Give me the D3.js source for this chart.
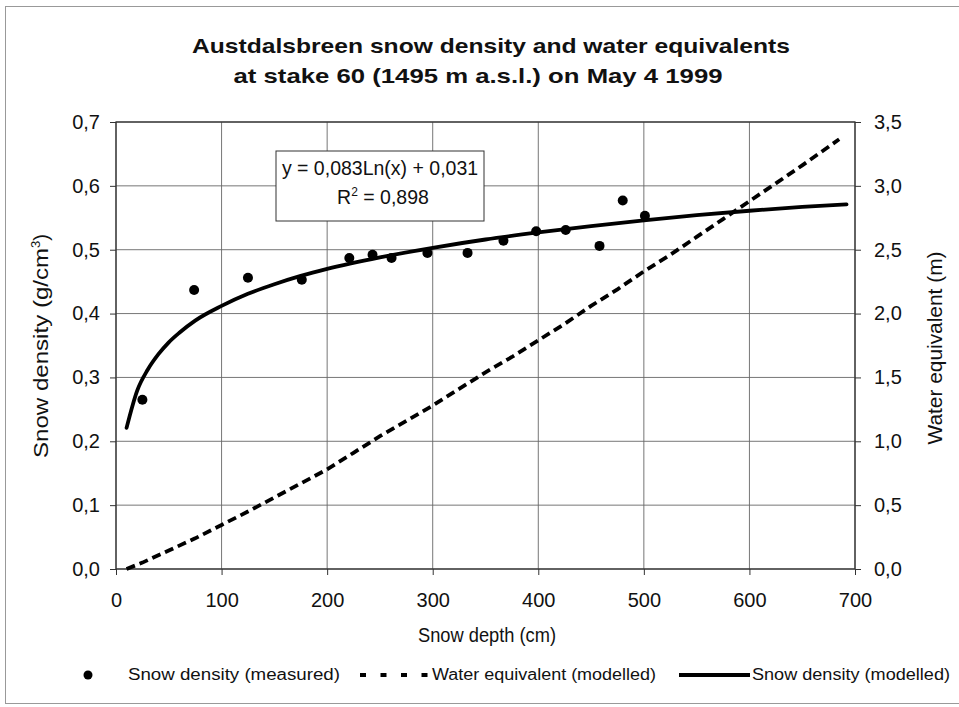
<!DOCTYPE html>
<html><head><meta charset="utf-8">
<script src="https://cdn.jsdelivr.net/npm/d3@7"></script>
<style>
body{margin:0;background:#fff;}
text{font-family:"Liberation Sans",Arial,sans-serif;fill:#111;}
</style></head>
<body><svg id="c" width="959" height="707"></svg>
<script>
// Measured snow density
const measDepth = [25, 74, 125, 176, 221, 243, 261, 295, 333, 367, 398, 426, 458, 480, 501];
const measDensity = [0.265, 0.437, 0.456, 0.453, 0.487, 0.492, 0.487, 0.495, 0.495, 0.514, 0.529, 0.531, 0.506, 0.577, 0.553];
// Modelled snow density
const modDepth = [10, 20, 30, 40, 50, 60, 75, 100, 125, 150, 175, 200, 250, 300, 350, 400, 450, 500, 550, 600, 650, 692];
const modDensity = [0.221, 0.279, 0.312, 0.336, 0.355, 0.370, 0.389, 0.412, 0.431, 0.446, 0.459, 0.470, 0.488, 0.503, 0.516, 0.527, 0.537, 0.546, 0.554, 0.561, 0.567, 0.571];
// Modelled water equivalent (m)
const weDepth = [10, 25, 50, 75, 100, 125, 150, 175, 200, 225, 250, 275, 300, 325, 350, 375, 400, 425, 450, 475, 500, 525, 550, 575, 600, 625, 650, 685];
const weValue = [0.0, 0.05, 0.145, 0.24, 0.345, 0.45, 0.56, 0.67, 0.78, 0.91, 1.04, 1.16, 1.28, 1.41, 1.54, 1.66, 1.79, 1.92, 2.06, 2.19, 2.33, 2.46, 2.60, 2.74, 2.88, 3.02, 3.16, 3.365];
const xTicks = [0, 100, 200, 300, 400, 500, 600, 700];
const yLeftTicks = [0, 0.1, 0.2, 0.3, 0.4, 0.5, 0.6, 0.7];
const yRightTicks = [0, 0.5, 1.0, 1.5, 2.0, 2.5, 3.0, 3.5];

const svg = d3.select("#c");
const L = 116, R = 855, T = 122, B = 569;
const x = d3.scaleLinear().domain([0, 700]).range([L, R]);
const yl = d3.scaleLinear().domain([0, 0.7]).range([B, T]);
const yr = d3.scaleLinear().domain([0, 3.5]).range([B, T]);
const loc = d3.formatLocale({decimal: ",", thousands: ".", grouping: [3], currency: ["", ""]});
const f1 = loc.format(".1f");

// outer frame
svg.append("rect").attr("x", 5.5).attr("y", 6.5).attr("width", 960).attr("height", 697)
  .attr("fill", "none").attr("stroke", "#999").attr("stroke-width", 1);

// grid
const g = svg.append("g");
g.selectAll(".gx").data(xTicks).join("line")
  .attr("x1", d => x(d)).attr("x2", d => x(d)).attr("y1", T).attr("y2", B)
  .attr("stroke", "#666").attr("stroke-width", 0.9);
g.selectAll(".gy").data(yLeftTicks).join("line")
  .attr("x1", L).attr("x2", R).attr("y1", d => yl(d)).attr("y2", d => yl(d))
  .attr("stroke", "#666").attr("stroke-width", 0.9);
svg.append("rect").attr("x", L).attr("y", T).attr("width", R - L).attr("height", B - T)
  .attr("fill", "none").attr("stroke", "#333").attr("stroke-width", 1.3);

// axes
function styleAxis(sel) {
  sel.select(".domain").remove();
  sel.selectAll(".tick line").attr("stroke", "#333").attr("stroke-width", 1);
  sel.selectAll(".tick text").style("font-size", "20px").style("font-family", '"Liberation Sans",Arial,sans-serif').attr("fill", "#111");
}
svg.append("g").attr("transform", `translate(0,${B})`)
  .call(d3.axisBottom(x).tickValues(xTicks).tickSize(6).tickPadding(18).tickFormat(d3.format("d")))
  .call(styleAxis);
svg.append("g").attr("transform", `translate(${L},0)`)
  .call(d3.axisLeft(yl).tickValues(yLeftTicks).tickSize(6).tickPadding(10).tickFormat(f1))
  .call(styleAxis);
svg.append("g").attr("transform", `translate(${R},0)`)
  .call(d3.axisRight(yr).tickValues(yRightTicks).tickSize(6).tickPadding(13).tickFormat(f1))
  .call(styleAxis);

// water equivalent dashed
const weData = weDepth.map((d, i) => [d, weValue[i]]);
svg.append("path").datum(weData)
  .attr("d", d3.line().x(d => x(d[0])).y(d => yr(d[1])))
  .attr("fill", "none").attr("stroke", "#000").attr("stroke-width", 3.8).attr("stroke-dasharray", "9,5");

// modelled density
const modData = modDepth.map((d, i) => [d, modDensity[i]]);
svg.append("path").datum(modData)
  .attr("d", d3.line().curve(d3.curveMonotoneX).x(d => x(d[0])).y(d => yl(d[1])))
  .attr("fill", "none").attr("stroke", "#000").attr("stroke-width", 3.8).attr("stroke-linecap", "round");

// measured points
svg.selectAll(".pt").data(measDepth.map((d, i) => [d, measDensity[i]])).join("circle")
  .attr("cx", d => x(d[0])).attr("cy", d => yl(d[1])).attr("r", 5).attr("fill", "#000");

// equation box
svg.append("rect").attr("x", 276).attr("y", 151).attr("width", 208).attr("height", 70)
  .attr("fill", "#fff").attr("stroke", "#333").attr("stroke-width", 1);
svg.append("text").attr("x", 380).attr("y", 175).attr("text-anchor", "middle").style("font-size", "19.5px")
  .text("y = 0,083Ln(x) + 0,031");
const r2 = svg.append("text").attr("x", 383).attr("y", 204).attr("text-anchor", "middle").style("font-size", "19.5px");
r2.append("tspan").text("R");
r2.append("tspan").attr("dy", -8).style("font-size", "12px").text("2");
r2.append("tspan").attr("dy", 8).text(" = 0,898");

// title
svg.append("text").attr("x", 491).attr("y", 53).attr("text-anchor", "middle")
  .style("font-size", "21px").style("font-weight", "bold")
  .attr("textLength", 598).attr("lengthAdjust", "spacingAndGlyphs")
  .text("Austdalsbreen snow density and water equivalents");
svg.append("text").attr("x", 478).attr("y", 83).attr("text-anchor", "middle")
  .style("font-size", "21px").style("font-weight", "bold")
  .attr("textLength", 489).attr("lengthAdjust", "spacingAndGlyphs")
  .text("at stake 60 (1495 m a.s.l.) on May 4 1999");

// axis titles
svg.append("text").attr("x", 487).attr("y", 642).attr("text-anchor", "middle").style("font-size", "20px")
  .attr("textLength", 138).attr("lengthAdjust", "spacingAndGlyphs")
  .text("Snow depth (cm)");
const yt = svg.append("text").attr("transform", "translate(48,346) rotate(-90)").attr("text-anchor", "middle").style("font-size", "20px");
yt.append("tspan").attr("textLength", 210).attr("lengthAdjust", "spacingAndGlyphs").text("Snow density (g/cm");
yt.append("tspan").attr("dy", -8).style("font-size", "13px").text("3");
yt.append("tspan").attr("dy", 8).text(")");
svg.append("text").attr("transform", "translate(942,348) rotate(-90)").attr("text-anchor", "middle").style("font-size", "20px")
  .attr("textLength", 193).attr("lengthAdjust", "spacingAndGlyphs")
  .text("Water equivalent (m)");

// legend
const ly = 680;
svg.append("circle").attr("cx", 88).attr("cy", ly - 5).attr("r", 4.5).attr("fill", "#000");
svg.append("text").attr("x", 128).attr("y", ly).style("font-size", "16px")
  .attr("textLength", 212).attr("lengthAdjust", "spacingAndGlyphs").text("Snow density (measured)");
svg.append("line").attr("x1", 360).attr("x2", 430).attr("y1", ly - 5).attr("y2", ly - 5)
  .attr("stroke", "#000").attr("stroke-width", 4).attr("stroke-dasharray", "6,14.5");
svg.append("text").attr("x", 432).attr("y", ly).style("font-size", "16px")
  .attr("textLength", 224).attr("lengthAdjust", "spacingAndGlyphs").text("Water equivalent (modelled)");
svg.append("line").attr("x1", 679).attr("x2", 750).attr("y1", ly - 5).attr("y2", ly - 5)
  .attr("stroke", "#000").attr("stroke-width", 4);
svg.append("text").attr("x", 752).attr("y", ly).style("font-size", "16px")
  .attr("textLength", 198).attr("lengthAdjust", "spacingAndGlyphs").text("Snow density (modelled)");
</script></body></html>
